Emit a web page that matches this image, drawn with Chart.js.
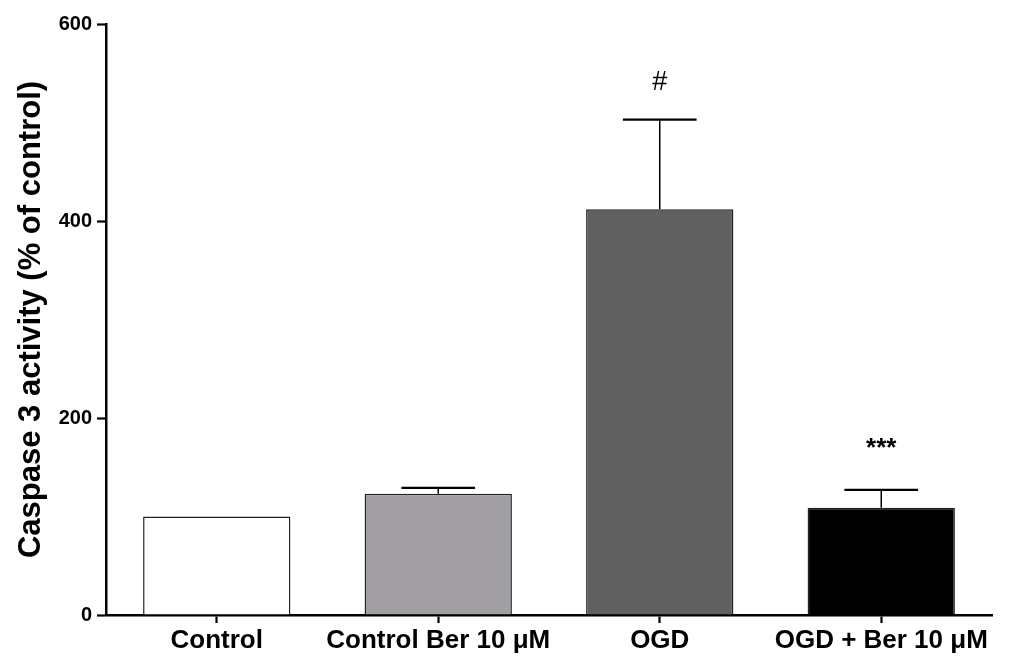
<!DOCTYPE html>
<html>
<head>
<meta charset="utf-8">
<script src="https://cdn.jsdelivr.net/npm/chart.js@4"></script>
<style>
html,body{margin:0;padding:0;background:#fff;}
#wrap{width:1014px;height:664px;position:relative;}
</style>
</head>
<body>
<div id="wrap"><canvas id="c" width="1014" height="664"></canvas></div>
<script>
const categories = ['Control', 'Control Ber 10 \u03bcM', 'OGD', 'OGD + Ber 10 \u03bcM'];
const means = [100, 123, 412, 109];
const errorTops = [100, 129, 503, 127];
const marks = ['', '', '#', '***'];
const markValues = [0, 0, 533, 161];
const barColors = ['#ffffff', '#a19fa4', '#606060', '#000000'];
const yTicks = [0, 200, 400, 600];

const FONT = "'Liberation Sans', Arial, Helvetica, sans-serif";

const extras = {
  id: 'extras',
  afterDatasetsDraw(chart) {
    const ctx = chart.ctx;
    const meta = chart.getDatasetMeta(0);
    const y = chart.scales.y;
    ctx.save();
    ctx.strokeStyle = '#000';
    meta.data.forEach((bar, i) => {
      if (errorTops[i] <= means[i]) return;
      const x = bar.x;
      const yTop = y.getPixelForValue(errorTops[i]);
      const yBar = y.getPixelForValue(means[i]);
      const half = bar.width / 4;
      ctx.lineWidth = 1.5;
      ctx.beginPath();
      ctx.moveTo(x, yBar);
      ctx.lineTo(x, yTop);
      ctx.stroke();
      ctx.lineWidth = 2.2;
      ctx.beginPath();
      ctx.moveTo(x - half, yTop);
      ctx.lineTo(x + half, yTop);
      ctx.stroke();
    });
    ctx.fillStyle = '#000';
    ctx.textAlign = 'center';
    ctx.textBaseline = 'alphabetic';
    meta.data.forEach((bar, i) => {
      if (!marks[i]) return;
      ctx.font = (marks[i] === '#' ? '27px ' : 'bold 26px ') + FONT;
      ctx.fillText(marks[i], bar.x, y.getPixelForValue(markValues[i]));
    });
    ctx.restore();
  }
};

new Chart(document.getElementById('c'), {
  type: 'bar',
  data: {
    labels: categories,
    datasets: [{
      data: means,
      backgroundColor: barColors,
      borderColor: '#222',
      borderWidth: 1.5,
      barPercentage: 0.665,
      categoryPercentage: 1.0
    }]
  },
  options: {
    responsive: false,
    animation: false,
    devicePixelRatio: 1,
    layout: { padding: { top: 24, right: 22, left: 0, bottom: 0 } },
    plugins: { legend: { display: false }, tooltip: { enabled: false } },
    scales: {
      x: {
        afterFit(s) { s.height = 49; },
        grid: { display: true, drawOnChartArea: false, drawTicks: true, tickLength: 8, tickWidth: 2.2, tickColor: '#000', offset: false },
        border: { display: true, color: '#000', width: 2.5 },
        ticks: { color: '#000', font: { family: FONT, size: 26, weight: 'bold' }, padding: 2, maxRotation: 0, minRotation: 0, autoSkip: false }
      },
      y: {
        min: 0, max: 600,
        afterFit(s) { s.width = 106; },
        afterBuildTicks(s) { s.ticks = yTicks.map(v => ({ value: v })); },
        grid: { display: true, drawOnChartArea: false, drawTicks: true, tickLength: 9, tickWidth: 2.2, tickColor: '#000' },
        border: { display: true, color: '#000', width: 2.5 },
        ticks: { color: '#000', font: { family: FONT, size: 20, weight: 'bold' }, padding: 5 },
        title: { display: true, text: 'Caspase 3 activity (% of control)', color: '#000', font: { family: FONT, size: 31, weight: 'bold' }, padding: { top: 13, bottom: 0 } }
      }
    }
  },
  plugins: [extras]
});
</script>
</body>
</html>
